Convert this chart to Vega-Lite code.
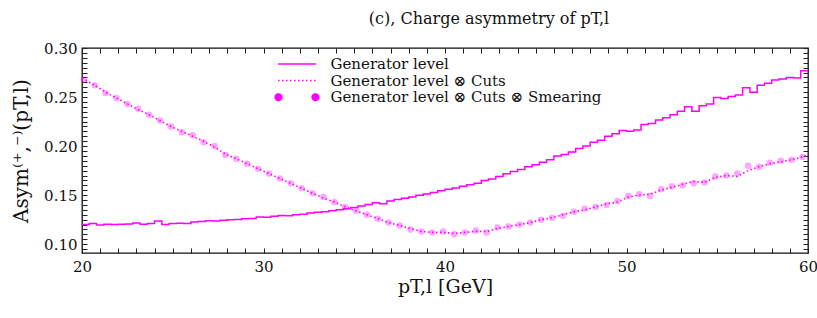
{
  "$schema": "https://vega.github.io/schema/vega-lite/v6.json",
  "width": 726,
  "height": 205,
  "autosize": "none",
  "padding": {"left": 82, "top": 48, "right": 9, "bottom": 65},
  "background": "white",
  "config": {
    "view": {"stroke": "#111", "strokeWidth": 1.3},
    "axis": {
      "grid": false, "domain": false, "tickSize": -5, "tickColor": "#222", "tickWidth": 1,
      "labelFont": "DejaVu Serif", "labelFontSize": 15, "labelColor": "#111",
      "titleFont": "DejaVu Serif", "titleFontSize": 19, "titleFontWeight": "normal", "titleColor": "#111",
      "labelFlush": false, "labelOverlap": false
    }
  },
  "title": {
    "text": "(c), Charge asymmetry of pT,l",
    "font": "DejaVu Serif", "fontSize": 16, "fontWeight": "normal", "color": "#111",
    "anchor": "middle", "dx": 44, "baseline": "alphabetic", "offset": 1
  },
  "datasets": {
    "gen": [
      {"x": 20.0, "y": 0.1200, "series": "Generator level"},
      {"x": 20.4, "y": 0.1212, "series": "Generator level"},
      {"x": 20.8, "y": 0.1195, "series": "Generator level"},
      {"x": 21.2, "y": 0.1204, "series": "Generator level"},
      {"x": 21.6, "y": 0.1200, "series": "Generator level"},
      {"x": 22.0, "y": 0.1202, "series": "Generator level"},
      {"x": 22.4, "y": 0.1205, "series": "Generator level"},
      {"x": 22.8, "y": 0.1215, "series": "Generator level"},
      {"x": 23.2, "y": 0.1202, "series": "Generator level"},
      {"x": 23.6, "y": 0.1210, "series": "Generator level"},
      {"x": 24.0, "y": 0.1235, "series": "Generator level"},
      {"x": 24.4, "y": 0.1200, "series": "Generator level"},
      {"x": 24.8, "y": 0.1212, "series": "Generator level"},
      {"x": 25.2, "y": 0.1214, "series": "Generator level"},
      {"x": 25.6, "y": 0.1210, "series": "Generator level"},
      {"x": 26.0, "y": 0.1225, "series": "Generator level"},
      {"x": 26.4, "y": 0.1232, "series": "Generator level"},
      {"x": 26.8, "y": 0.1240, "series": "Generator level"},
      {"x": 27.2, "y": 0.1236, "series": "Generator level"},
      {"x": 27.6, "y": 0.1245, "series": "Generator level"},
      {"x": 28.0, "y": 0.1250, "series": "Generator level"},
      {"x": 28.4, "y": 0.1252, "series": "Generator level"},
      {"x": 28.8, "y": 0.1258, "series": "Generator level"},
      {"x": 29.2, "y": 0.1262, "series": "Generator level"},
      {"x": 29.6, "y": 0.1278, "series": "Generator level"},
      {"x": 30.0, "y": 0.1275, "series": "Generator level"},
      {"x": 30.4, "y": 0.1285, "series": "Generator level"},
      {"x": 30.8, "y": 0.1292, "series": "Generator level"},
      {"x": 31.2, "y": 0.1290, "series": "Generator level"},
      {"x": 31.6, "y": 0.1300, "series": "Generator level"},
      {"x": 32.0, "y": 0.1305, "series": "Generator level"},
      {"x": 32.4, "y": 0.1318, "series": "Generator level"},
      {"x": 32.8, "y": 0.1325, "series": "Generator level"},
      {"x": 33.2, "y": 0.1330, "series": "Generator level"},
      {"x": 33.6, "y": 0.1340, "series": "Generator level"},
      {"x": 34.0, "y": 0.1350, "series": "Generator level"},
      {"x": 34.4, "y": 0.1360, "series": "Generator level"},
      {"x": 34.8, "y": 0.1375, "series": "Generator level"},
      {"x": 35.2, "y": 0.1390, "series": "Generator level"},
      {"x": 35.6, "y": 0.1405, "series": "Generator level"},
      {"x": 36.0, "y": 0.1422, "series": "Generator level"},
      {"x": 36.4, "y": 0.1412, "series": "Generator level"},
      {"x": 36.8, "y": 0.1440, "series": "Generator level"},
      {"x": 37.2, "y": 0.1455, "series": "Generator level"},
      {"x": 37.6, "y": 0.1468, "series": "Generator level"},
      {"x": 38.0, "y": 0.1480, "series": "Generator level"},
      {"x": 38.4, "y": 0.1500, "series": "Generator level"},
      {"x": 38.8, "y": 0.1512, "series": "Generator level"},
      {"x": 39.2, "y": 0.1528, "series": "Generator level"},
      {"x": 39.6, "y": 0.1545, "series": "Generator level"},
      {"x": 40.0, "y": 0.1560, "series": "Generator level"},
      {"x": 40.4, "y": 0.1572, "series": "Generator level"},
      {"x": 40.8, "y": 0.1590, "series": "Generator level"},
      {"x": 41.2, "y": 0.1605, "series": "Generator level"},
      {"x": 41.6, "y": 0.1622, "series": "Generator level"},
      {"x": 42.0, "y": 0.1648, "series": "Generator level"},
      {"x": 42.4, "y": 0.1665, "series": "Generator level"},
      {"x": 42.8, "y": 0.1690, "series": "Generator level"},
      {"x": 43.2, "y": 0.1718, "series": "Generator level"},
      {"x": 43.6, "y": 0.1740, "series": "Generator level"},
      {"x": 44.0, "y": 0.1762, "series": "Generator level"},
      {"x": 44.4, "y": 0.1790, "series": "Generator level"},
      {"x": 44.8, "y": 0.1810, "series": "Generator level"},
      {"x": 45.2, "y": 0.1835, "series": "Generator level"},
      {"x": 45.6, "y": 0.1860, "series": "Generator level"},
      {"x": 46.0, "y": 0.1900, "series": "Generator level"},
      {"x": 46.4, "y": 0.1915, "series": "Generator level"},
      {"x": 46.8, "y": 0.1940, "series": "Generator level"},
      {"x": 47.2, "y": 0.1975, "series": "Generator level"},
      {"x": 47.6, "y": 0.2000, "series": "Generator level"},
      {"x": 48.0, "y": 0.2040, "series": "Generator level"},
      {"x": 48.4, "y": 0.2060, "series": "Generator level"},
      {"x": 48.8, "y": 0.2100, "series": "Generator level"},
      {"x": 49.2, "y": 0.2125, "series": "Generator level"},
      {"x": 49.6, "y": 0.2160, "series": "Generator level"},
      {"x": 50.0, "y": 0.2150, "series": "Generator level"},
      {"x": 50.4, "y": 0.2165, "series": "Generator level"},
      {"x": 50.8, "y": 0.2220, "series": "Generator level"},
      {"x": 51.2, "y": 0.2230, "series": "Generator level"},
      {"x": 51.6, "y": 0.2265, "series": "Generator level"},
      {"x": 52.0, "y": 0.2290, "series": "Generator level"},
      {"x": 52.4, "y": 0.2320, "series": "Generator level"},
      {"x": 52.8, "y": 0.2355, "series": "Generator level"},
      {"x": 53.2, "y": 0.2400, "series": "Generator level"},
      {"x": 53.6, "y": 0.2355, "series": "Generator level"},
      {"x": 54.0, "y": 0.2410, "series": "Generator level"},
      {"x": 54.4, "y": 0.2430, "series": "Generator level"},
      {"x": 54.8, "y": 0.2495, "series": "Generator level"},
      {"x": 55.2, "y": 0.2485, "series": "Generator level"},
      {"x": 55.6, "y": 0.2505, "series": "Generator level"},
      {"x": 56.0, "y": 0.2520, "series": "Generator level"},
      {"x": 56.4, "y": 0.2595, "series": "Generator level"},
      {"x": 56.8, "y": 0.2550, "series": "Generator level"},
      {"x": 57.2, "y": 0.2620, "series": "Generator level"},
      {"x": 57.6, "y": 0.2640, "series": "Generator level"},
      {"x": 58.0, "y": 0.2675, "series": "Generator level"},
      {"x": 58.4, "y": 0.2685, "series": "Generator level"},
      {"x": 58.8, "y": 0.2700, "series": "Generator level"},
      {"x": 59.2, "y": 0.2695, "series": "Generator level"},
      {"x": 59.6, "y": 0.2768, "series": "Generator level"},
      {"x": 60.0, "y": 0.2768, "series": "Generator level"}
    ],
    "cuts": [
      {"x": 20.0, "y": 0.269, "series": "Generator level ⊗ Cuts"},
      {"x": 20.7, "y": 0.262, "series": "Generator level ⊗ Cuts"},
      {"x": 21.3, "y": 0.255, "series": "Generator level ⊗ Cuts"},
      {"x": 21.9, "y": 0.249, "series": "Generator level ⊗ Cuts"},
      {"x": 22.5, "y": 0.243, "series": "Generator level ⊗ Cuts"},
      {"x": 23.1, "y": 0.237, "series": "Generator level ⊗ Cuts"},
      {"x": 23.7, "y": 0.232, "series": "Generator level ⊗ Cuts"},
      {"x": 24.3, "y": 0.226, "series": "Generator level ⊗ Cuts"},
      {"x": 24.9, "y": 0.220, "series": "Generator level ⊗ Cuts"},
      {"x": 25.5, "y": 0.215, "series": "Generator level ⊗ Cuts"},
      {"x": 26.1, "y": 0.210, "series": "Generator level ⊗ Cuts"},
      {"x": 26.7, "y": 0.205, "series": "Generator level ⊗ Cuts"},
      {"x": 27.3, "y": 0.199, "series": "Generator level ⊗ Cuts"},
      {"x": 27.9, "y": 0.192, "series": "Generator level ⊗ Cuts"},
      {"x": 28.5, "y": 0.187, "series": "Generator level ⊗ Cuts"},
      {"x": 29.1, "y": 0.182, "series": "Generator level ⊗ Cuts"},
      {"x": 29.7, "y": 0.177, "series": "Generator level ⊗ Cuts"},
      {"x": 30.3, "y": 0.172, "series": "Generator level ⊗ Cuts"},
      {"x": 30.9, "y": 0.167, "series": "Generator level ⊗ Cuts"},
      {"x": 31.5, "y": 0.162, "series": "Generator level ⊗ Cuts"},
      {"x": 32.1, "y": 0.157, "series": "Generator level ⊗ Cuts"},
      {"x": 32.7, "y": 0.152, "series": "Generator level ⊗ Cuts"},
      {"x": 33.3, "y": 0.147, "series": "Generator level ⊗ Cuts"},
      {"x": 33.9, "y": 0.143, "series": "Generator level ⊗ Cuts"},
      {"x": 34.5, "y": 0.138, "series": "Generator level ⊗ Cuts"},
      {"x": 35.1, "y": 0.134, "series": "Generator level ⊗ Cuts"},
      {"x": 35.7, "y": 0.130, "series": "Generator level ⊗ Cuts"},
      {"x": 36.3, "y": 0.126, "series": "Generator level ⊗ Cuts"},
      {"x": 36.9, "y": 0.122, "series": "Generator level ⊗ Cuts"},
      {"x": 37.5, "y": 0.119, "series": "Generator level ⊗ Cuts"},
      {"x": 38.1, "y": 0.116, "series": "Generator level ⊗ Cuts"},
      {"x": 38.7, "y": 0.113, "series": "Generator level ⊗ Cuts"},
      {"x": 39.3, "y": 0.112, "series": "Generator level ⊗ Cuts"},
      {"x": 39.9, "y": 0.112, "series": "Generator level ⊗ Cuts"},
      {"x": 40.5, "y": 0.111, "series": "Generator level ⊗ Cuts"},
      {"x": 41.1, "y": 0.112, "series": "Generator level ⊗ Cuts"},
      {"x": 41.7, "y": 0.113, "series": "Generator level ⊗ Cuts"},
      {"x": 42.3, "y": 0.113, "series": "Generator level ⊗ Cuts"},
      {"x": 42.9, "y": 0.116, "series": "Generator level ⊗ Cuts"},
      {"x": 43.5, "y": 0.118, "series": "Generator level ⊗ Cuts"},
      {"x": 44.1, "y": 0.120, "series": "Generator level ⊗ Cuts"},
      {"x": 44.7, "y": 0.122, "series": "Generator level ⊗ Cuts"},
      {"x": 45.3, "y": 0.125, "series": "Generator level ⊗ Cuts"},
      {"x": 45.9, "y": 0.127, "series": "Generator level ⊗ Cuts"},
      {"x": 46.5, "y": 0.130, "series": "Generator level ⊗ Cuts"},
      {"x": 47.1, "y": 0.133, "series": "Generator level ⊗ Cuts"},
      {"x": 47.7, "y": 0.135, "series": "Generator level ⊗ Cuts"},
      {"x": 48.3, "y": 0.138, "series": "Generator level ⊗ Cuts"},
      {"x": 48.9, "y": 0.141, "series": "Generator level ⊗ Cuts"},
      {"x": 49.5, "y": 0.143, "series": "Generator level ⊗ Cuts"},
      {"x": 50.1, "y": 0.148, "series": "Generator level ⊗ Cuts"},
      {"x": 50.7, "y": 0.150, "series": "Generator level ⊗ Cuts"},
      {"x": 51.3, "y": 0.151, "series": "Generator level ⊗ Cuts"},
      {"x": 51.9, "y": 0.155, "series": "Generator level ⊗ Cuts"},
      {"x": 52.5, "y": 0.158, "series": "Generator level ⊗ Cuts"},
      {"x": 53.1, "y": 0.161, "series": "Generator level ⊗ Cuts"},
      {"x": 53.7, "y": 0.164, "series": "Generator level ⊗ Cuts"},
      {"x": 54.3, "y": 0.163, "series": "Generator level ⊗ Cuts"},
      {"x": 54.9, "y": 0.168, "series": "Generator level ⊗ Cuts"},
      {"x": 55.5, "y": 0.170, "series": "Generator level ⊗ Cuts"},
      {"x": 56.1, "y": 0.169, "series": "Generator level ⊗ Cuts"},
      {"x": 56.7, "y": 0.175, "series": "Generator level ⊗ Cuts"},
      {"x": 57.3, "y": 0.179, "series": "Generator level ⊗ Cuts"},
      {"x": 57.9, "y": 0.182, "series": "Generator level ⊗ Cuts"},
      {"x": 58.5, "y": 0.184, "series": "Generator level ⊗ Cuts"},
      {"x": 59.1, "y": 0.186, "series": "Generator level ⊗ Cuts"},
      {"x": 59.7, "y": 0.189, "series": "Generator level ⊗ Cuts"},
      {"x": 60.0, "y": 0.191, "series": "Generator level ⊗ Cuts"}
    ],
    "smear": [
      {"x": 20.1, "y": 0.268, "series": "Generator level ⊗ Cuts ⊗ Smearing"},
      {"x": 20.7, "y": 0.262, "series": "Generator level ⊗ Cuts ⊗ Smearing"},
      {"x": 21.3, "y": 0.254, "series": "Generator level ⊗ Cuts ⊗ Smearing"},
      {"x": 21.9, "y": 0.249, "series": "Generator level ⊗ Cuts ⊗ Smearing"},
      {"x": 22.5, "y": 0.243, "series": "Generator level ⊗ Cuts ⊗ Smearing"},
      {"x": 23.1, "y": 0.238, "series": "Generator level ⊗ Cuts ⊗ Smearing"},
      {"x": 23.7, "y": 0.232, "series": "Generator level ⊗ Cuts ⊗ Smearing"},
      {"x": 24.3, "y": 0.226, "series": "Generator level ⊗ Cuts ⊗ Smearing"},
      {"x": 24.9, "y": 0.220, "series": "Generator level ⊗ Cuts ⊗ Smearing"},
      {"x": 25.5, "y": 0.214, "series": "Generator level ⊗ Cuts ⊗ Smearing"},
      {"x": 26.1, "y": 0.211, "series": "Generator level ⊗ Cuts ⊗ Smearing"},
      {"x": 26.7, "y": 0.204, "series": "Generator level ⊗ Cuts ⊗ Smearing"},
      {"x": 27.3, "y": 0.200, "series": "Generator level ⊗ Cuts ⊗ Smearing"},
      {"x": 27.9, "y": 0.191, "series": "Generator level ⊗ Cuts ⊗ Smearing"},
      {"x": 28.5, "y": 0.187, "series": "Generator level ⊗ Cuts ⊗ Smearing"},
      {"x": 29.1, "y": 0.182, "series": "Generator level ⊗ Cuts ⊗ Smearing"},
      {"x": 29.7, "y": 0.177, "series": "Generator level ⊗ Cuts ⊗ Smearing"},
      {"x": 30.3, "y": 0.172, "series": "Generator level ⊗ Cuts ⊗ Smearing"},
      {"x": 30.9, "y": 0.167, "series": "Generator level ⊗ Cuts ⊗ Smearing"},
      {"x": 31.5, "y": 0.162, "series": "Generator level ⊗ Cuts ⊗ Smearing"},
      {"x": 32.1, "y": 0.157, "series": "Generator level ⊗ Cuts ⊗ Smearing"},
      {"x": 32.7, "y": 0.152, "series": "Generator level ⊗ Cuts ⊗ Smearing"},
      {"x": 33.3, "y": 0.148, "series": "Generator level ⊗ Cuts ⊗ Smearing"},
      {"x": 33.9, "y": 0.143, "series": "Generator level ⊗ Cuts ⊗ Smearing"},
      {"x": 34.5, "y": 0.138, "series": "Generator level ⊗ Cuts ⊗ Smearing"},
      {"x": 35.1, "y": 0.134, "series": "Generator level ⊗ Cuts ⊗ Smearing"},
      {"x": 35.7, "y": 0.130, "series": "Generator level ⊗ Cuts ⊗ Smearing"},
      {"x": 36.3, "y": 0.126, "series": "Generator level ⊗ Cuts ⊗ Smearing"},
      {"x": 36.9, "y": 0.122, "series": "Generator level ⊗ Cuts ⊗ Smearing"},
      {"x": 37.5, "y": 0.119, "series": "Generator level ⊗ Cuts ⊗ Smearing"},
      {"x": 38.1, "y": 0.115, "series": "Generator level ⊗ Cuts ⊗ Smearing"},
      {"x": 38.7, "y": 0.113, "series": "Generator level ⊗ Cuts ⊗ Smearing"},
      {"x": 39.3, "y": 0.112, "series": "Generator level ⊗ Cuts ⊗ Smearing"},
      {"x": 39.9, "y": 0.113, "series": "Generator level ⊗ Cuts ⊗ Smearing"},
      {"x": 40.5, "y": 0.110, "series": "Generator level ⊗ Cuts ⊗ Smearing"},
      {"x": 41.1, "y": 0.112, "series": "Generator level ⊗ Cuts ⊗ Smearing"},
      {"x": 41.7, "y": 0.114, "series": "Generator level ⊗ Cuts ⊗ Smearing"},
      {"x": 42.3, "y": 0.112, "series": "Generator level ⊗ Cuts ⊗ Smearing"},
      {"x": 42.9, "y": 0.117, "series": "Generator level ⊗ Cuts ⊗ Smearing"},
      {"x": 43.5, "y": 0.118, "series": "Generator level ⊗ Cuts ⊗ Smearing"},
      {"x": 44.1, "y": 0.120, "series": "Generator level ⊗ Cuts ⊗ Smearing"},
      {"x": 44.7, "y": 0.122, "series": "Generator level ⊗ Cuts ⊗ Smearing"},
      {"x": 45.3, "y": 0.125, "series": "Generator level ⊗ Cuts ⊗ Smearing"},
      {"x": 45.9, "y": 0.127, "series": "Generator level ⊗ Cuts ⊗ Smearing"},
      {"x": 46.5, "y": 0.129, "series": "Generator level ⊗ Cuts ⊗ Smearing"},
      {"x": 47.1, "y": 0.133, "series": "Generator level ⊗ Cuts ⊗ Smearing"},
      {"x": 47.7, "y": 0.136, "series": "Generator level ⊗ Cuts ⊗ Smearing"},
      {"x": 48.3, "y": 0.138, "series": "Generator level ⊗ Cuts ⊗ Smearing"},
      {"x": 48.9, "y": 0.140, "series": "Generator level ⊗ Cuts ⊗ Smearing"},
      {"x": 49.5, "y": 0.144, "series": "Generator level ⊗ Cuts ⊗ Smearing"},
      {"x": 50.1, "y": 0.149, "series": "Generator level ⊗ Cuts ⊗ Smearing"},
      {"x": 50.7, "y": 0.151, "series": "Generator level ⊗ Cuts ⊗ Smearing"},
      {"x": 51.3, "y": 0.149, "series": "Generator level ⊗ Cuts ⊗ Smearing"},
      {"x": 51.9, "y": 0.156, "series": "Generator level ⊗ Cuts ⊗ Smearing"},
      {"x": 52.5, "y": 0.159, "series": "Generator level ⊗ Cuts ⊗ Smearing"},
      {"x": 53.1, "y": 0.160, "series": "Generator level ⊗ Cuts ⊗ Smearing"},
      {"x": 53.7, "y": 0.162, "series": "Generator level ⊗ Cuts ⊗ Smearing"},
      {"x": 54.3, "y": 0.163, "series": "Generator level ⊗ Cuts ⊗ Smearing"},
      {"x": 54.9, "y": 0.169, "series": "Generator level ⊗ Cuts ⊗ Smearing"},
      {"x": 55.5, "y": 0.170, "series": "Generator level ⊗ Cuts ⊗ Smearing"},
      {"x": 56.1, "y": 0.172, "series": "Generator level ⊗ Cuts ⊗ Smearing"},
      {"x": 56.7, "y": 0.180, "series": "Generator level ⊗ Cuts ⊗ Smearing"},
      {"x": 57.3, "y": 0.179, "series": "Generator level ⊗ Cuts ⊗ Smearing"},
      {"x": 57.9, "y": 0.183, "series": "Generator level ⊗ Cuts ⊗ Smearing"},
      {"x": 58.5, "y": 0.185, "series": "Generator level ⊗ Cuts ⊗ Smearing"},
      {"x": 59.1, "y": 0.186, "series": "Generator level ⊗ Cuts ⊗ Smearing"},
      {"x": 59.7, "y": 0.189, "series": "Generator level ⊗ Cuts ⊗ Smearing"}
    ]
  },
  "resolve": {"axis": {"x": "independent", "y": "independent"}},
  "layer": [
    {
      "data": {"name": "gen"},
      "mark": {"type": "line", "interpolate": "step-after", "strokeWidth": 1.5},
      "encoding": {
        "x": {
          "field": "x", "type": "quantitative",
          "scale": {"domain": [20, 60], "nice": false, "zero": false},
          "axis": {
            "orient": "bottom",
            "values": [20,21,22,23,24,25,26,27,28,29,30,31,32,33,34,35,36,37,38,39,40,41,42,43,44,45,46,47,48,49,50,51,52,53,54,55,56,57,58,59,60],
            "labelExpr": "datum.value % 10 === 0 ? datum.label : ''",
            "labelPadding": 11,
            "title": "pT,l [GeV]",
            "titleX": 363, "titleY": 33, "titleBaseline": "middle", "titleAlign": "center",
            "encode": {"ticks": {"y2": {"value": {"expr": "datum.value % 10 === 0 ? -5 : -2.5"}}}}
          }
        },
        "y": {
          "field": "y", "type": "quantitative",
          "scale": {"domain": [0.091, 0.30], "nice": false, "zero": false},
          "axis": {
            "orient": "left",
            "values": [0.095,0.1,0.105,0.11,0.115,0.12,0.125,0.13,0.135,0.14,0.145,0.15,0.155,0.16,0.165,0.17,0.175,0.18,0.185,0.19,0.195,0.2,0.205,0.21,0.215,0.22,0.225,0.23,0.235,0.24,0.245,0.25,0.255,0.26,0.265,0.27,0.275,0.28,0.285,0.29,0.295,0.3],
            "labelExpr": "abs(datum.value*20 - round(datum.value*20)) < 0.001 ? format(datum.value, '.2f') : ''",
            "labelPadding": 10,
            "title": "Asym⁽⁺,⁻⁾(pT,l)",
            "titleFontSize": 20,
            "titleX": -61, "titleY": 102.5, "titleBaseline": "middle", "titleAlign": "center", "titleAngle": -90,
            "encode": {"ticks": {"x2": {"value": {"expr": "abs(datum.value*20 - round(datum.value*20)) < 0.001 ? 5 : 2.5"}}}}
          }
        },
        "color": {
          "field": "series", "type": "nominal",
          "scale": {
            "domain": ["Generator level", "Generator level ⊗ Cuts", "Generator level ⊗ Cuts ⊗ Smearing"],
            "range": ["#ff00ff", "#ff00ff", "#ff00ff"]
          },
          "legend": {
            "orient": "none", "legendX": 207.5, "legendY": 8.5, "title": null,
            "labelFont": "DejaVu Serif", "labelFontSize": 15, "labelColor": "#111",
            "labelOffset": 26, "symbolOffset": 0, "symbolSize": 90, "symbolStrokeWidth": 1.5,
            "rowPadding": 0.6, "padding": 0, "labelLimit": 400,
            "encode": {
              "symbols": {
                "update": {
                  "shape": {"signal": "datum.index === 2 ? 'M-4.6,0a0.7,0.7 0 1,0 1.4,0a0.7,0.7 0 1,0 -1.4,0ZM3.2,0a0.7,0.7 0 1,0 1.4,0a0.7,0.7 0 1,0 -1.4,0Z' : 'M-4,0H4'"},
                  "stroke": {"signal": "datum.index === 2 ? 'transparent' : '#ff00ff'"},
                  "fill": {"signal": "datum.index === 2 ? '#ff88ff' : 'transparent'"},
                  "strokeDash": {"signal": "datum.index === 1 ? [1.5, 2.5] : [1, 0]"},
                  "strokeWidth": {"value": 1.5},
                  "opacity": {"value": 1},
                  "fillOpacity": {"value": 1},
                  "strokeOpacity": {"value": 1}
                }
              }
            }
          }
        }
      }
    },
    {
      "data": {"name": "cuts"},
      "mark": {"type": "line", "strokeDash": [1.5, 2.5], "strokeWidth": 1.6},
      "encoding": {
        "x": {
          "field": "x", "type": "quantitative",
          "axis": {
            "orient": "top", "labels": false, "title": null,
            "values": [20,21,22,23,24,25,26,27,28,29,30,31,32,33,34,35,36,37,38,39,40,41,42,43,44,45,46,47,48,49,50,51,52,53,54,55,56,57,58,59,60],
            "encode": {"ticks": {"y2": {"value": {"expr": "datum.value % 10 === 0 ? 5 : 2.5"}}}}
          }
        },
        "y": {
          "field": "y", "type": "quantitative",
          "axis": {
            "orient": "right", "labels": false, "title": null,
            "values": [0.095,0.1,0.105,0.11,0.115,0.12,0.125,0.13,0.135,0.14,0.145,0.15,0.155,0.16,0.165,0.17,0.175,0.18,0.185,0.19,0.195,0.2,0.205,0.21,0.215,0.22,0.225,0.23,0.235,0.24,0.245,0.25,0.255,0.26,0.265,0.27,0.275,0.28,0.285,0.29,0.295,0.3],
            "encode": {"ticks": {"x2": {"value": {"expr": "abs(datum.value*20 - round(datum.value*20)) < 0.001 ? -5 : -2.5"}}}}
          }
        },
        "color": {"field": "series", "type": "nominal"}
      }
    },
    {
      "data": {"name": "smear"},
      "mark": {"type": "point", "filled": true, "size": 42, "opacity": 0.35},
      "encoding": {
        "x": {"field": "x", "type": "quantitative", "axis": null},
        "y": {"field": "y", "type": "quantitative", "axis": null},
        "color": {"field": "series", "type": "nominal"}
      }
    }
  ]
}
